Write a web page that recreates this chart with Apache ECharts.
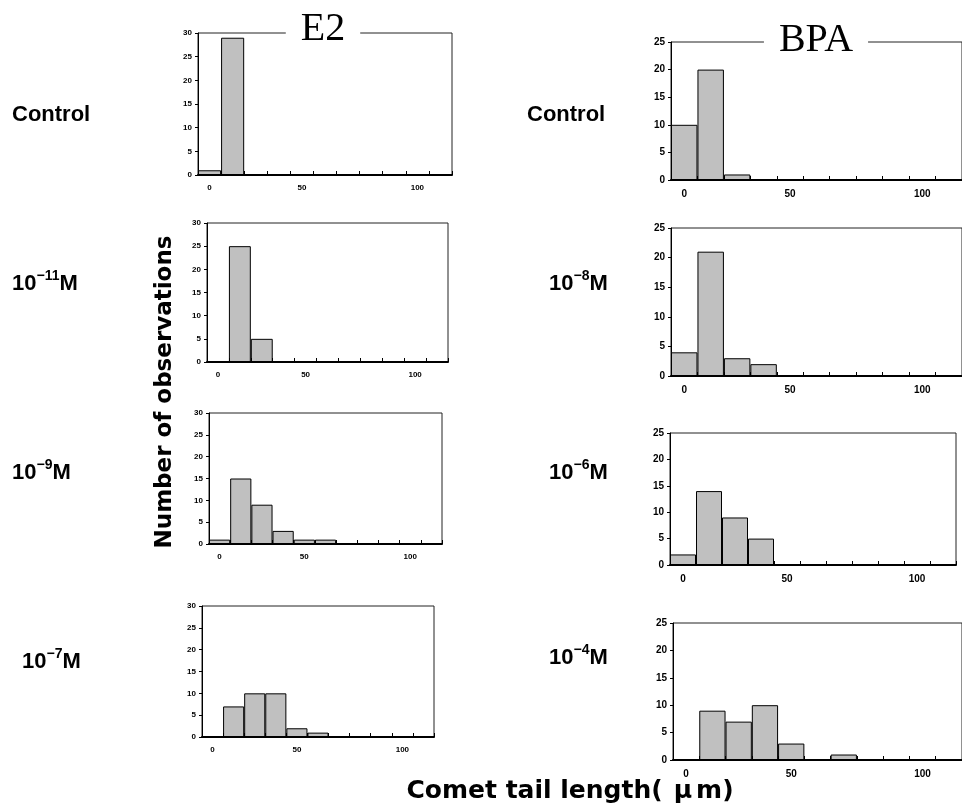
<!doctype html>
<html>
<head>
    <title>Comet tail length histograms</title>
    <script src="https://cdn.jsdelivr.net/npm/echarts@6/dist/echarts.min.js"></script>
</head>
<style>
    html, body { margin: 0; padding: 0; background: #fff; }
    #chart { width: 962px; height: 805px; }
</style>
<body>
<div id="chart"></div>
<script>
  var myChart = echarts.init(document.getElementById('chart'));

  // bins of comet tail length (11 classes) and the few tick labels shown
  var bins = ['1', '2', '3', '4', '5', '6', '7', '8', '9', '10', '11'];
  var xTickLabels = ['0', '', '', '', '50', '', '', '', '', '100', ''];

  // counts per bin, E2
  var e2Control = [1, 29, 0, 0, 0, 0, 0, 0, 0, 0, 0];
  var e2M11 = [0, 25, 5, 0, 0, 0, 0, 0, 0, 0, 0];
  var e2M9 = [1, 15, 9, 3, 1, 1, 0, 0, 0, 0, 0];
  var e2M7 = [0, 7, 10, 10, 2, 1, 0, 0, 0, 0, 0];

  // counts per bin, BPA
  var bpaControl = [10, 20, 1, 0, 0, 0, 0, 0, 0, 0, 0];
  var bpaM8 = [4, 21, 3, 2, 0, 0, 0, 0, 0, 0, 0];
  var bpaM6 = [2, 14, 9, 5, 0, 0, 0, 0, 0, 0, 0];
  var bpaM4 = [0, 9, 7, 10, 3, 0, 1, 0, 0, 0, 0];

  var e2Max = 30;
  var bpaMax = 25;

  // panel boxes: [left, top, width, height]
  var panels = [
    { data: e2Control, max: e2Max, box: [198, 33, 254, 142], font: 8 },
    { data: e2M11, max: e2Max, box: [207, 223, 241, 139], font: 8 },
    { data: e2M9, max: e2Max, box: [209, 413, 233, 131], font: 8 },
    { data: e2M7, max: e2Max, box: [202, 606, 232, 131], font: 8 },
    { data: bpaControl, max: bpaMax, box: [671, 42, 293, 138], font: 10 },
    { data: bpaM8, max: bpaMax, box: [671, 228, 293, 148], font: 10 },
    { data: bpaM6, max: bpaMax, box: [670, 433, 286, 132], font: 10 },
    { data: bpaM4, max: bpaMax, box: [673, 623, 291, 137], font: 10 }
  ];

  var grids = [], xAxes = [], yAxes = [], series = [];
  panels.forEach(function (p, i) {
    grids.push({
      left: p.box[0], top: p.box[1], width: p.box[2], height: p.box[3],
      show: true, borderColor: '#222', borderWidth: 1, backgroundColor: '#fff'
    });
    xAxes.push({
      type: 'category', gridIndex: i, data: bins,
      axisLine: { lineStyle: { color: '#000', width: 2 } },
      axisTick: { show: true, interval: 0, inside: true, length: 4, lineStyle: { color: '#000', width: 1 } },
      axisLabel: {
        interval: 0, margin: 9, color: '#000', fontSize: p.font,
        fontFamily: 'Liberation Sans', fontWeight: 'bold',
        formatter: function (v, idx) { return xTickLabels[idx]; }
      },
      splitLine: { show: false },
      z: 5
    });
    yAxes.push({
      type: 'value', gridIndex: i, min: 0, max: p.max, interval: 5,
      axisLine: { show: true, lineStyle: { color: '#000', width: 1 } },
      axisTick: { show: true, length: 3, lineStyle: { color: '#000' } },
      axisLabel: { margin: 6, color: '#000', fontSize: p.font, fontFamily: 'Liberation Sans', fontWeight: 'bold' },
      splitLine: { show: false }
    });
    series.push({
      type: 'bar', xAxisIndex: i, yAxisIndex: i, data: p.data,
      barCategoryGap: '0%', silent: true,
      itemStyle: { color: '#c0c0c0', borderColor: '#000', borderWidth: 1 }
    });
  });

  var lbl = {
    n: { fontSize: 22, fontWeight: 'bold', fontFamily: 'Liberation Sans', lineHeight: 26, verticalAlign: 'bottom', fill: '#000' },
    s: { fontSize: 14, fontWeight: 'bold', fontFamily: 'Liberation Sans', lineHeight: 26, verticalAlign: 'top', fill: '#000' }
  };
  function rowLabel(x, y, txt) {
    return {
      type: 'text', x: x, y: y, z: 100,
      style: { text: txt, rich: lbl, textVerticalAlign: 'middle', fill: '#000' }
    };
  }
  function header(x, y, txt) {
    return {
      type: 'text', x: x, y: y, z: 100,
      style: {
        text: txt, fontSize: 40, fontFamily: 'Liberation Serif', fill: '#000',
        textAlign: 'center', textVerticalAlign: 'middle',
        backgroundColor: '#fff', padding: [0, 15]
      }
    };
  }

  var option = {
    backgroundColor: '#fff',
    animation: false,
    grid: grids,
    xAxis: xAxes,
    yAxis: yAxes,
    series: series,
    graphic: [
      header(323, 29, 'E2'),
      header(816, 40, 'BPA'),
      rowLabel(12, 113, '{n|Control}'),
      rowLabel(12, 282, '{n|10}{s|−11}{n|M}'),
      rowLabel(12, 471, '{n|10}{s|−9}{n|M}'),
      rowLabel(22, 660, '{n|10}{s|−7}{n|M}'),
      rowLabel(527, 113, '{n|Control}'),
      rowLabel(549, 282, '{n|10}{s|−8}{n|M}'),
      rowLabel(549, 471, '{n|10}{s|−6}{n|M}'),
      rowLabel(549, 656, '{n|10}{s|−4}{n|M}'),
      {
        type: 'text', x: 165, y: 392, rotation: Math.PI / 2, z: 100,
        style: {
          text: 'Number of observations', fontSize: 23, fontWeight: 'bold',
          fontFamily: 'DejaVu Sans', fill: '#000',
          textAlign: 'center', textVerticalAlign: 'middle'
        }
      },
      {
        type: 'text', x: 570, y: 791, z: 100,
        style: {
          text: '{a|Comet tail length(}{u|μ}{a|m)}',
          rich: {
            a: { fontSize: 25, fontWeight: 'bold', fontFamily: 'DejaVu Sans', fill: '#000' },
            u: { fontSize: 25, fontWeight: 'bold', fontFamily: 'DejaVu Sans', fill: '#000', padding: [0, 4, 0, 11] }
          },
          textAlign: 'center', textVerticalAlign: 'middle'
        }
      }
    ]
  };

  myChart.setOption(option);
</script>
</body>
</html>
